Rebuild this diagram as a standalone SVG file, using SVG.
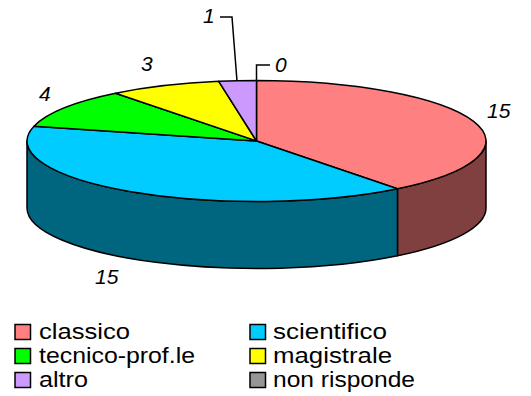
<svg xmlns="http://www.w3.org/2000/svg" width="531" height="396" viewBox="0 0 531 396">
<style>
.e{stroke:#000;stroke-width:1.5;stroke-linejoin:round}
.lbl{font-family:"Liberation Sans",Arial,sans-serif;font-size:21px;font-style:italic;fill:#000}
.leg{font-family:"Liberation Sans",Arial,sans-serif;font-size:22px;fill:#000}
.ld{fill:none;stroke:#000;stroke-width:1.5}
.box{stroke:#000;stroke-width:1.5}
</style>
<rect width="531" height="396" fill="#fff"/>
<g id="sides">
<path class="e" fill="#804040" d="M486,141 A229.5,60.5 0 0 1 397.46,188.75 L397.46,255.75 A229.5,60.5 0 0 0 486,208 Z"/>
<path class="e" fill="#006680" d="M397.46,188.75 A229.5,60.5 0 0 1 27,141 L27,208 A229.5,60.5 0 0 0 397.46,255.75 Z"/>
</g>
<g id="slices">
<path id="classico" class="e" fill="#FF8080" d="M256.5,141 L256.5,80.5 A229.5,60.5 0 0 1 397.46,188.75 Z"/>
<path id="scientifico" class="e" fill="#00CCFF" d="M256.5,141 L397.46,188.75 A229.5,60.5 0 0 1 34.02,126.15 Z"/>
<path id="tecnico" class="e" fill="#00FF00" d="M256.5,141 L34.02,126.15 A229.5,60.5 0 0 1 115.54,93.25 Z"/>
<path id="magistrale" class="e" fill="#FFFF00" d="M256.5,141 L115.54,93.25 A229.5,60.5 0 0 1 218.73,81.32 Z"/>
<path id="altro" class="e" fill="#CC99FF" d="M256.5,141 L218.73,81.32 A229.5,60.5 0 0 1 256.5,80.5 Z"/>
</g>
<g id="connectors">
<path class="ld" d="M220,17 L232,17 L237,81"/>
<path class="ld" d="M270,65 L256.5,65 L256.5,80.5"/>
</g>
<g id="labels">
<text class="lbl" x="487" y="118">15</text>
<text class="lbl" x="95" y="284">15</text>
<text class="lbl" x="39" y="101">4</text>
<text class="lbl" x="141" y="71">3</text>
<text class="lbl" x="203" y="23">1</text>
<text class="lbl" x="275" y="72">0</text>
</g>
<g id="legend">
<rect class="box" x="15" y="324.5" width="15.5" height="15" fill="#FF8080"/>
<text class="leg" x="39" y="339" textLength="91" lengthAdjust="spacingAndGlyphs">classico</text>
<rect class="box" x="15" y="348.5" width="15.5" height="15" fill="#00FF00"/>
<text class="leg" x="39" y="363" textLength="156" lengthAdjust="spacingAndGlyphs">tecnico-prof.le</text>
<rect class="box" x="15" y="372.5" width="15.5" height="15" fill="#CC99FF"/>
<text class="leg" x="39" y="387" textLength="49" lengthAdjust="spacingAndGlyphs">altro</text>
<rect class="box" x="250" y="324.5" width="15.5" height="15" fill="#00CCFF"/>
<text class="leg" x="273" y="339" textLength="114" lengthAdjust="spacingAndGlyphs">scientifico</text>
<rect class="box" x="250" y="348.5" width="15.5" height="15" fill="#FFFF00"/>
<text class="leg" x="273" y="363" textLength="119" lengthAdjust="spacingAndGlyphs">magistrale</text>
<rect class="box" x="250" y="372.5" width="15.5" height="15" fill="#969696"/>
<text class="leg" x="273" y="387" textLength="142" lengthAdjust="spacingAndGlyphs">non risponde</text>
</g>
</svg>
